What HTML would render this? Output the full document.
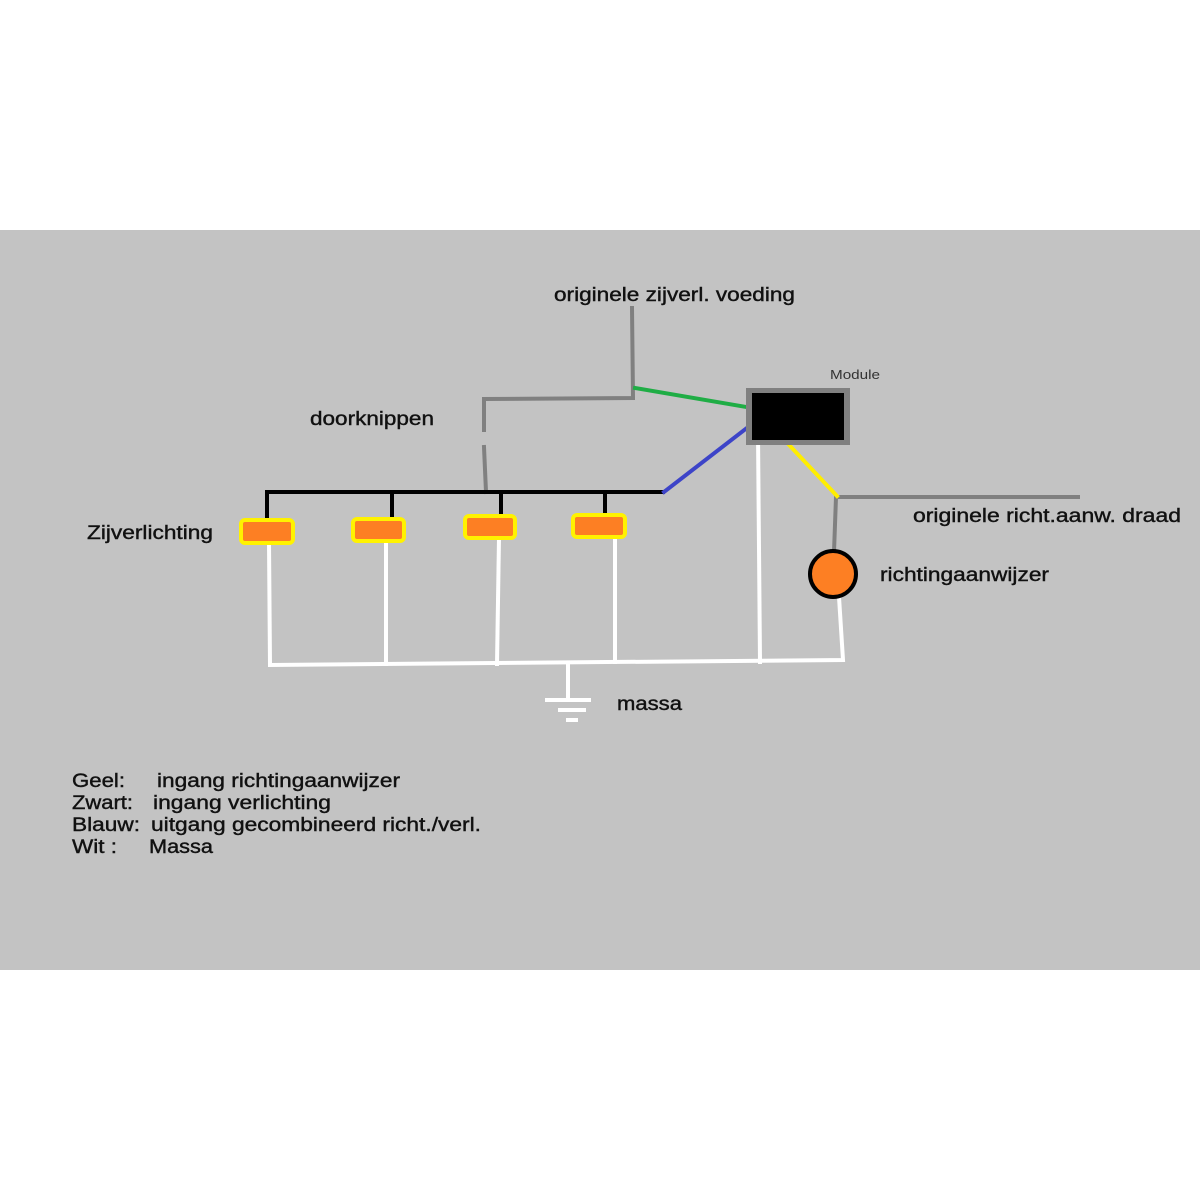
<!DOCTYPE html>
<html><head><meta charset="utf-8"><style>html,body{margin:0;padding:0;background:#fff}svg{display:block}</style></head>
<body>
<svg width="1200" height="1200" viewBox="0 0 1200 1200" xmlns="http://www.w3.org/2000/svg" font-family="Liberation Sans, Arial, sans-serif">
<rect x="0" y="0" width="1200" height="1200" fill="#fff"/>
<rect x="0" y="230" width="1200" height="740" fill="#c3c3c3"/>
<g fill="none" stroke-linecap="square">
<polyline points="632,308 633,398 484,399 484,430" stroke="#808080" stroke-width="4"/>
<line x1="484" y1="447" x2="486" y2="492" stroke="#808080" stroke-width="4"/>
<line x1="635" y1="388" x2="752" y2="408" stroke="#1fad45" stroke-width="4"/>
<polyline points="267,520 267,492 663,492" stroke="#000" stroke-width="4"/>
<line x1="392" y1="492" x2="392" y2="518" stroke="#000" stroke-width="4"/>
<line x1="501" y1="492" x2="501" y2="515" stroke="#000" stroke-width="4"/>
<line x1="605" y1="492" x2="605" y2="514" stroke="#000" stroke-width="4"/>
<line x1="664" y1="492" x2="752" y2="424" stroke="#3d44c8" stroke-width="4"/>
<polyline points="1078,497 836,497 834,552" stroke="#808080" stroke-width="4"/>
<line x1="776" y1="431" x2="837" y2="496" stroke="#ffee00" stroke-width="4"/>
<polyline points="269,543 270,665 843,660 839,597" stroke="#fff" stroke-width="4"/>
<line x1="386" y1="542" x2="386" y2="664" stroke="#fff" stroke-width="4"/>
<line x1="499" y1="538" x2="497" y2="664" stroke="#fff" stroke-width="4"/>
<line x1="615" y1="537" x2="615" y2="662" stroke="#fff" stroke-width="4"/>
<line x1="758" y1="434" x2="760" y2="662" stroke="#fff" stroke-width="4"/>
<line x1="568" y1="666" x2="568" y2="698" stroke="#fff" stroke-width="4"/>
<line x1="547" y1="700" x2="589" y2="700" stroke="#fff" stroke-width="4"/>
<line x1="560" y1="710" x2="584" y2="710" stroke="#fff" stroke-width="4"/>
<line x1="568" y1="720" x2="576" y2="720" stroke="#fff" stroke-width="4"/>
</g>
<rect x="746" y="388" width="104" height="57" fill="#808080"/>
<rect x="752" y="393" width="92" height="47" fill="#000"/>
<g fill="#fd7f23" stroke="#fff200" stroke-width="4">
<rect x="241" y="520" width="52" height="23" rx="4"/>
<rect x="353" y="519" width="51" height="22" rx="4"/>
<rect x="465" y="516" width="50" height="22" rx="4"/>
<rect x="573" y="515" width="52" height="22" rx="4"/>
</g>
<circle cx="833" cy="574" r="23" fill="#fd7f23" stroke="#000" stroke-width="4"/>
<g fill="#111" font-size="19" stroke="#111" stroke-width="0.4" lengthAdjust="spacingAndGlyphs">
<text x="554" y="301" textLength="241" lengthAdjust="spacingAndGlyphs">originele zijverl. voeding</text>
<text x="310" y="425" textLength="124" lengthAdjust="spacingAndGlyphs">doorknippen</text>
<text x="87" y="539" textLength="126" lengthAdjust="spacingAndGlyphs">Zijverlichting</text>
<text x="913" y="522" textLength="268" lengthAdjust="spacingAndGlyphs">originele richt.aanw. draad</text>
<text x="880" y="581" textLength="169" lengthAdjust="spacingAndGlyphs">richtingaanwijzer</text>
<text x="617" y="710" textLength="65" lengthAdjust="spacingAndGlyphs">massa</text>
<text x="72" y="787" textLength="53" lengthAdjust="spacingAndGlyphs">Geel:</text>
<text x="157" y="787" textLength="243" lengthAdjust="spacingAndGlyphs">ingang richtingaanwijzer</text>
<text x="72" y="809" textLength="61" lengthAdjust="spacingAndGlyphs">Zwart:</text>
<text x="153" y="809" textLength="178" lengthAdjust="spacingAndGlyphs">ingang verlichting</text>
<text x="72" y="831" textLength="68" lengthAdjust="spacingAndGlyphs">Blauw:</text>
<text x="151" y="831" textLength="330" lengthAdjust="spacingAndGlyphs">uitgang gecombineerd richt./verl.</text>
<text x="72" y="853" textLength="45" lengthAdjust="spacingAndGlyphs">Wit :</text>
<text x="149" y="853" textLength="64" lengthAdjust="spacingAndGlyphs">Massa</text>
</g>
<text x="830" y="379" font-size="13" fill="#333" textLength="50" lengthAdjust="spacingAndGlyphs">Module</text>
</svg>
</body></html>
